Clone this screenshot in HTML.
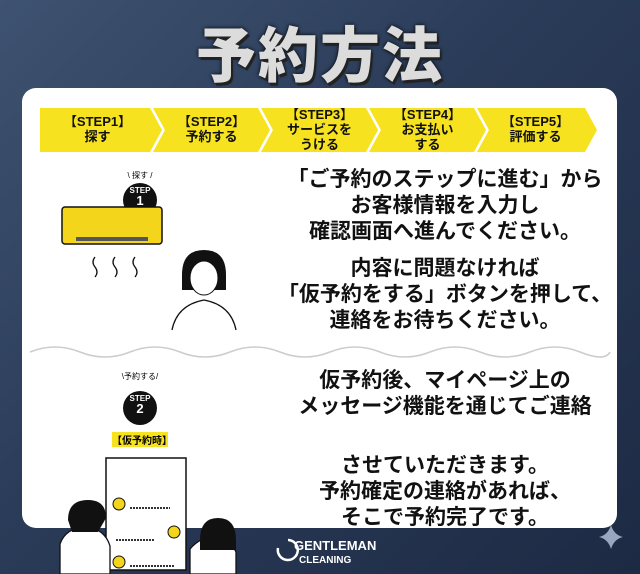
<!DOCTYPE html>
<html><head><meta charset="utf-8"><style>
*{margin:0;padding:0;box-sizing:border-box}
body{width:640px;height:574px;overflow:hidden;background:linear-gradient(135deg,#3e5371 0%,#2a3b58 45%,#1d2a44 100%);font-family:"Liberation Sans","Noto Sans CJK JP",sans-serif;position:relative}
.t{position:absolute;white-space:nowrap;text-align:center}
.title{left:0;width:640px;top:8px;font-size:60px;font-weight:900;color:#dcdcdc;letter-spacing:2px;text-shadow:2px 3px 0 #222,0 0 4px #000}
.card{position:absolute;left:22px;top:88px;width:595px;height:440px;background:#fff;border-radius:14px}
.m{font-size:21px;font-weight:700;color:#111;left:270px;width:350px;line-height:26px}
.ch{font-size:13px;font-weight:700;color:#111;line-height:15px}
</style></head><body>
<div class="t title">予約方法</div>
<div class="card"></div>
<svg style="position:absolute;left:0;top:0" width="640" height="574">
<g fill="#f6e21f">
<polygon points="40,108 150,108 162,130 150,152 40,152"/>
<polygon points="153,108 258,108 270,130 258,152 153,152 165,130"/>
<polygon points="261,108 366,108 378,130 366,152 261,152 273,130"/>
<polygon points="369,108 474,108 486,130 474,152 369,152 381,130"/>
<polygon points="477,108 585,108 597,130 585,152 477,152 489,130"/>
</g>
<path d="M30 352 q25 -10 50 0 t50 0 t50 0 t50 0 t50 0 t50 0 t50 0 t50 0 t50 0 t50 0 t50 0 t30 0" fill="none" stroke="#ccc" stroke-width="1.5"/>
<circle cx="140" cy="200" r="17" fill="#111"/>
<circle cx="140" cy="408" r="17" fill="#111"/>
<rect x="62" y="207" width="100" height="37" rx="3" fill="#f3d51c" stroke="#111" stroke-width="1.5"/>
<rect x="76" y="237" width="72" height="4" fill="#555"/>
<path d="M95 257 q-4 5 0 10 q4 5 0 10 M115 257 q-4 5 0 10 q4 5 0 10 M135 257 q-4 5 0 10 q4 5 0 10" fill="none" stroke="#111" stroke-width="1.3"/>
<path d="M182 275 q0 -25 22 -25 q22 0 22 25 l0 15 l-44 0z" fill="#111"/>
<ellipse cx="204" cy="278" rx="14" ry="17" fill="#fff" stroke="#111"/>
<path d="M172 330 q5 -25 32 -30 q27 5 32 30" fill="#fff" stroke="#111" stroke-width="1.3"/>
<rect x="106" y="458" width="80" height="112" fill="#fff" stroke="#111" stroke-width="1.5"/>
<g fill="#f3d51c" stroke="#111"><circle cx="119" cy="504" r="6"/><circle cx="174" cy="532" r="6"/><circle cx="119" cy="562" r="6"/></g>
<g stroke="#333" stroke-width="2" stroke-dasharray="2 1"><line x1="130" y1="508" x2="170" y2="508"/><line x1="116" y1="540" x2="155" y2="540"/><line x1="130" y1="566" x2="175" y2="566"/></g>
<path d="M60 574 l0 -30 q5 -15 25 -18 q20 3 25 20 l0 28z" fill="#fff" stroke="#111" stroke-width="1.3"/>
<path d="M68 520 q0 -20 20 -20 q18 0 18 18 l-8 14 l-26 0z" fill="#111"/>
<path d="M190 574 l0 -25 q10 -12 24 -12 q16 2 22 15 l0 22z" fill="#fff" stroke="#111" stroke-width="1.3"/>
<path d="M200 540 q0 -22 18 -22 q18 0 18 22 l0 10 l-36 0z" fill="#111"/>
<path d="M611 525 q3 10 12 12 q-9 2 -12 12 q-3 -10 -12 -12 q9 -2 12 -12z" fill="#9aa6bf"/>
<path d="M278 548 a10 10 0 1 0 10 -8" fill="none" stroke="#fff" stroke-width="2.5"/>
</svg>
<div class="t ch" style="left:40px;width:115px;top:114px">【STEP1】<br>探す</div>
<div class="t ch" style="left:153px;width:117px;top:114px">【STEP2】<br>予約する</div>
<div class="t ch" style="left:261px;width:117px;top:107px">【STEP3】<br>サービスを<br>うける</div>
<div class="t ch" style="left:369px;width:117px;top:107px">【STEP4】<br>お支払い<br>する</div>
<div class="t ch" style="left:477px;width:117px;top:114px">【STEP5】<br>評価する</div>
<div class="t" style="left:120px;width:40px;top:170px;font-size:8px">\ 探す /</div>
<div class="t" style="left:120px;width:40px;top:186px;font-size:8px;color:#fff;font-weight:700;line-height:10px">STEP<br><span style="font-size:13px">1</span></div>
<div class="t" style="left:115px;width:50px;top:371px;font-size:8px">\予約する/</div>
<div class="t" style="left:120px;width:40px;top:394px;font-size:8px;color:#fff;font-weight:700;line-height:10px">STEP<br><span style="font-size:13px">2</span></div>
<div class="t" style="left:112px;width:56px;top:432px;font-size:10px;font-weight:700;background:#f6e21f">【仮予約時】</div>
<div class="t m" style="top:167px">「ご予約のステップに進む」から<br>お客様情報を入力し<br>確認画面へ進んでください。</div>
<div class="t m" style="top:256px">内容に問題なければ<br>「仮予約をする」ボタンを押して、<br>連絡をお待ちください。</div>
<div class="t m" style="top:368px">仮予約後、マイページ上の<br>メッセージ機能を通じてご連絡</div>
<div class="t m" style="top:453px">させていただきます。<br>予約確定の連絡があれば、<br>そこで予約完了です。</div>
<div class="t" style="left:294px;top:539px;font-size:13px;font-weight:700;color:#fff;line-height:13px;text-align:left">GENTLEMAN<br><span style="font-size:10px;padding-left:5px">CLEANING</span></div>
</body></html>
